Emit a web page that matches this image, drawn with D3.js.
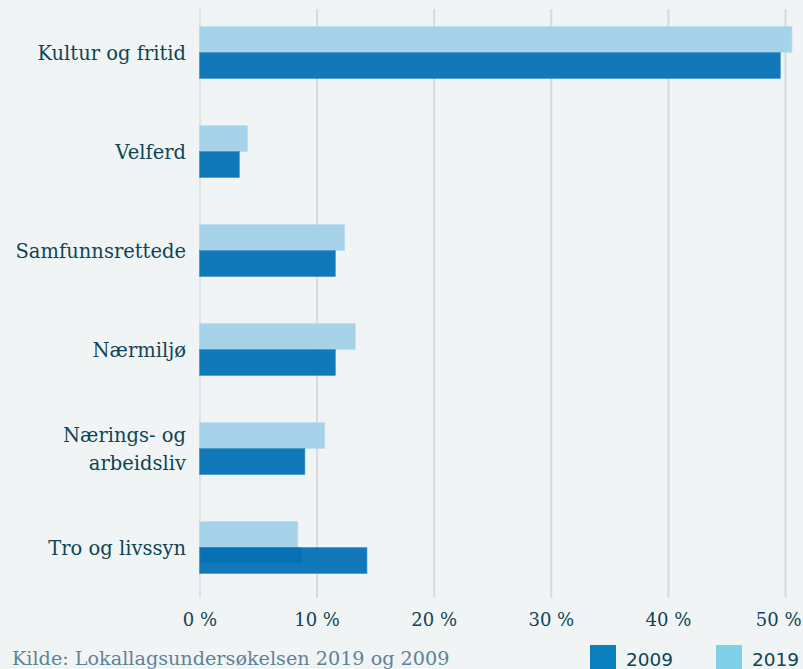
<!DOCTYPE html>
<html>
<head>
<meta charset="utf-8">
<script src="https://cdn.jsdelivr.net/npm/d3@7"></script>
<style>
  body { margin: 0; background: #f1f4f5; }
  svg { display: block; }
  .cat { font-family: "DejaVu Serif", serif; font-size: 19.5px; fill: #0e4556; }
  .tick text { font-family: "DejaVu Serif", serif; font-size: 18px; fill: #0e4556; }
  .source { font-family: "DejaVu Serif", serif; font-size: 19.2px; fill: #5f8396; }
  .legend text { font-family: "DejaVu Sans", sans-serif; font-size: 18.5px; fill: #0e4556; }
</style>
</head>
<body>
<div id="chart"></div>
<script>
// data
const categories = ["Kultur og fritid", "Velferd", "Samfunnsrettede", "Nærmiljø", "Nærings- og\narbeidsliv", "Tro og livssyn"];
const years = ["2019", "2009"];
const values2019 = [50.6, 4.1, 12.4, 13.3, 10.7, 8.4];
const values2009 = [49.6, 3.4, 11.6, 11.6, 9.0, 14.3];
const xTicks = [0, 10, 20, 30, 40, 50];
const legendYears = ["2009", "2019"];

const W = 803, H = 669;
const barColor = {"2019": "#a6d3ea", "2009": "#1179b9"};
const legendColor = {"2009": "#0a7fbf", "2019": "#7fd0e8"};

const svg = d3.select("#chart").append("svg")
    .attr("width", W)
    .attr("height", H);

svg.append("rect").attr("width", W).attr("height", H).attr("fill", "#f1f4f5");

const x = d3.scaleLinear().domain([0, 50]).range([199.5, 785]);
const y = d3.scaleBand().domain(categories).range([3, 597]).paddingInner(0.475).paddingOuter(0.2375);
const ySub = d3.scaleBand().domain(years).range([0, y.bandwidth()]);

// gridlines + tick labels
const xAxis = d3.axisBottom(x)
    .tickValues(xTicks)
    .tickFormat(d => d + " %")
    .tickSize(-589)
    .tickPadding(15);

const axisG = svg.append("g")
    .attr("transform", "translate(0,598)")
    .call(xAxis);
axisG.select(".domain").remove();
axisG.selectAll(".tick line")
    .attr("stroke", d => d === 0 ? "#e0e2e3" : "#d8d9da")
    .attr("stroke-width", 2);
// keep the last label inside the frame
axisG.selectAll(".tick text")
    .filter(d => d === d3.max(xTicks))
    .attr("text-anchor", "end")
    .attr("dx", W - 2 - x(d3.max(xTicks)));

// rows
const rows = categories.map((c, i) => ({cat: c, "2019": values2019[i], "2009": values2009[i]}));

const groups = svg.append("g").selectAll("g")
    .data(rows)
    .join("g")
    .attr("transform", d => `translate(0,${y(d.cat)})`);

groups.selectAll("rect.bar")
    .data(d => years.map(k => ({key: k, value: d[k]})))
    .join("rect")
    .attr("class", "bar")
    .attr("x", x(0))
    .attr("y", d => ySub(d.key))
    .attr("width", d => x(d.value) - x(0))
    .attr("height", ySub.bandwidth())
    .attr("fill", d => barColor[d.key])
    .attr("stroke", d => d.key === "2019" ? "#b8dcef" : "#3f8fc4")
    .attr("stroke-width", 0.6);

// overlap glitch where the 2019 bar bleeds onto the 2009 bar
groups.filter(d => d.cat === "Tro og livssyn")
    .append("rect")
    .attr("x", x(0) + 1)
    .attr("y", ySub("2009"))
    .attr("width", d => x(d["2019"]) - x(0) + 3)
    .attr("height", ySub.bandwidth() * 0.6)
    .attr("fill", "#0672b3");

// category labels
const labels = svg.append("g").selectAll("text")
    .data(categories)
    .join("text")
    .attr("class", "cat")
    .attr("text-anchor", "end")
    .attr("x", 186)
    .attr("y", d => y(d) + y.bandwidth() / 2);

labels.each(function(d) {
    const lines = d.split("\n");
    const t = d3.select(this);
    lines.forEach((ln, i) => {
        t.append("tspan")
            .attr("x", 186)
            .attr("dy", i === 0 ? (7 - (lines.length - 1) * 14) + "px" : "28px")
            .text(ln);
    });
});

// source
svg.append("text")
    .attr("class", "source")
    .attr("x", 12)
    .attr("y", 665)
    .text("Kilde: Lokallagsundersøkelsen 2019 og 2009");

// legend
const legend = svg.append("g").attr("class", "legend");
const lx = d3.scalePoint().domain(legendYears).range([590, 716]);
legend.selectAll("rect")
    .data(legendYears)
    .join("rect")
    .attr("x", d => lx(d))
    .attr("y", 645)
    .attr("width", 26)
    .attr("height", 26)
    .attr("fill", d => legendColor[d]);
legend.selectAll("text")
    .data(legendYears)
    .join("text")
    .attr("x", d => lx(d) + 36)
    .attr("y", 666)
    .text(d => d);
</script>
</body>
</html>
